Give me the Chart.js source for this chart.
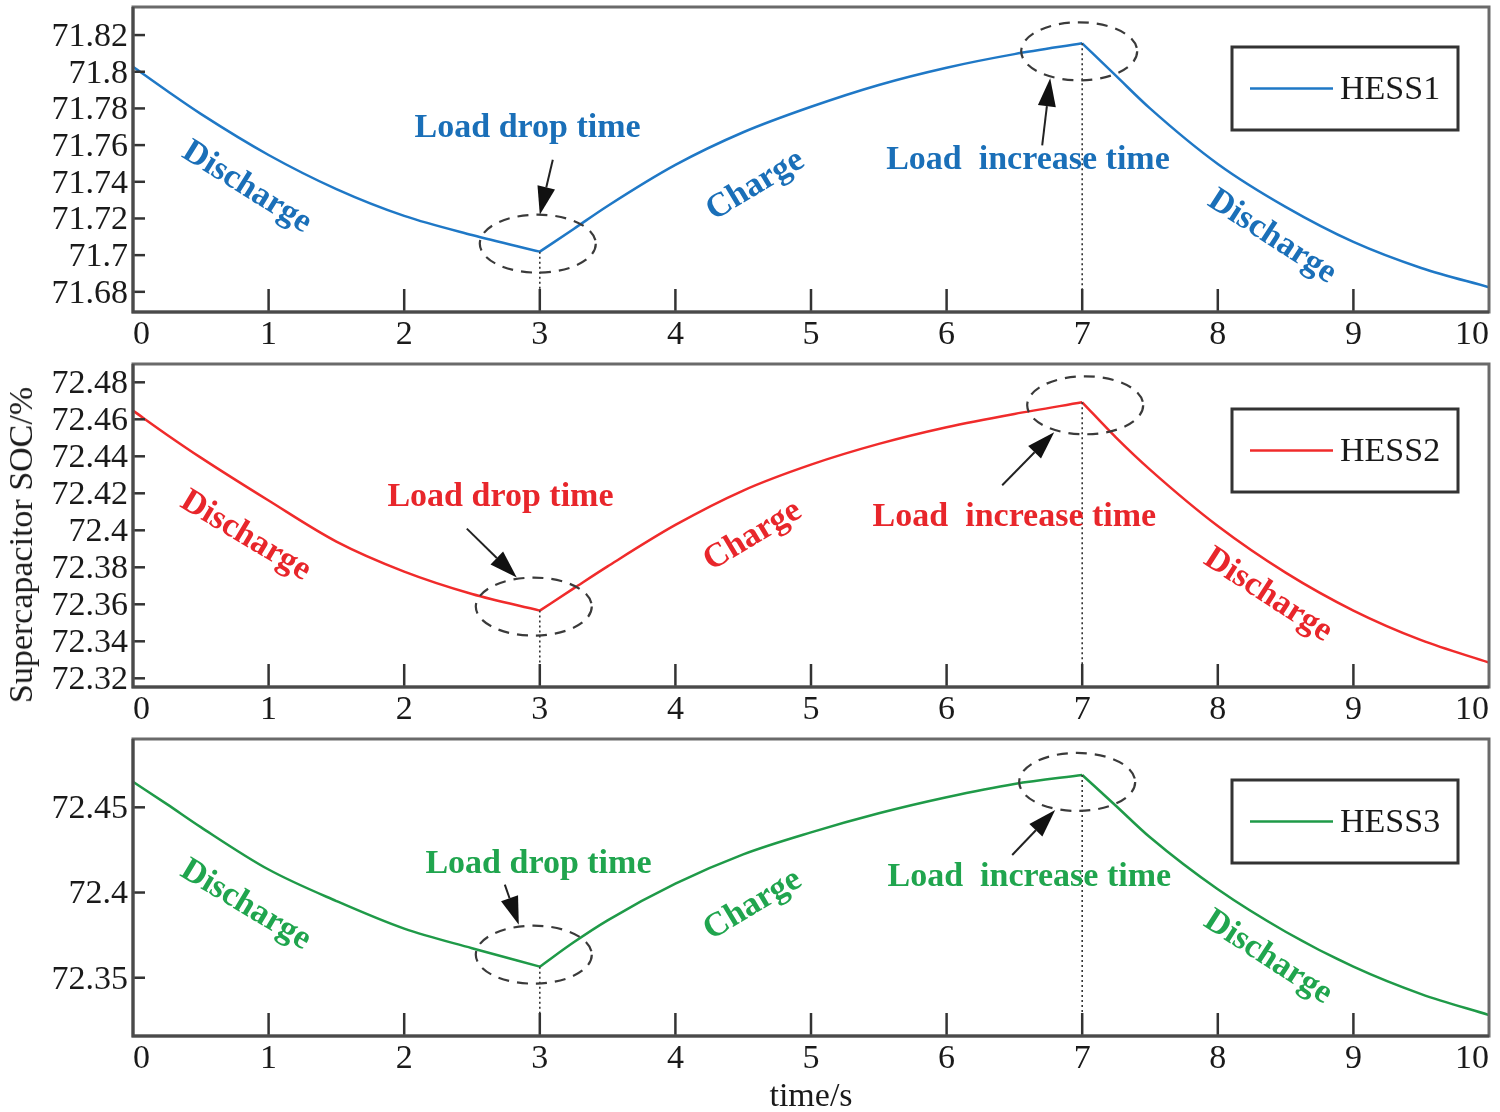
<!DOCTYPE html>
<html>
<head>
<meta charset="utf-8">
<script src="https://cdn.jsdelivr.net/npm/chart.js@4.4.1/dist/chart.umd.min.js"></script>
<style>
  html, body { margin: 0; padding: 0; background: #fff; }
  #wrap { position: relative; width: 1500px; height: 1112px; overflow: hidden; }
  canvas { position: absolute; left: 0; }
  #ylab {
    position: absolute; left: 21px; top: 545px;
    transform: translate(-50%, -50%) rotate(-90deg);
    font: 34px "Liberation Serif"; color: #1a1a1a; white-space: nowrap;
  }
</style>
</head>
<body>
<div id="wrap">
  <canvas id="c1" style="top:0px"></canvas>
  <canvas id="c2" style="top:355px"></canvas>
  <canvas id="c3" style="top:725px"></canvas>
  <div id="ylab">Supercapacitor SOC/%</div>
</div>
<script>
// ── values --------------------------------------------------------------------
const timeS = [0, 0.25, 0.5, 1, 1.5, 2, 2.5, 3, 3.25, 3.5, 4, 4.5, 5, 5.5, 6, 6.5, 7, 7.25, 7.5, 8, 8.5, 9, 9.5, 10];

const hess1 = [71.8027, 71.7896, 71.777, 71.7546, 71.736, 71.7214, 71.711, 71.7019,
               71.7143, 71.7268, 71.7492, 71.767, 71.7809, 71.7928, 71.8022, 71.8096, 71.8155,
               71.7977, 71.78, 71.7497, 71.7263, 71.7072, 71.693, 71.6825];

const hess2 = [72.4647, 72.4517, 72.4393, 72.4161, 72.3939, 72.3777, 72.3656, 72.3566,
               72.3686, 72.3805, 72.4029, 72.4215, 72.4355, 72.4467, 72.4557, 72.4629, 72.4692,
               72.4501, 72.4328, 72.4023, 72.3771, 72.3566, 72.3406, 72.3285];

const hess3 = [72.465, 72.4519, 72.4384, 72.4135, 72.395, 72.3788, 72.3673, 72.3565,
               72.3708, 72.3837, 72.4052, 72.4224, 72.4353, 72.4465, 72.4559, 72.4637, 72.469,
               72.4508, 72.4324, 72.4019, 72.377, 72.3565, 72.3404, 72.3281];

const phaseBreaks = [3, 7];          // load drop / load increase instants
const xTicks  = [0, 1, 2, 3, 4, 5, 6, 7, 8, 9, 10];
const yTicks1 = [71.68, 71.70, 71.72, 71.74, 71.76, 71.78, 71.80, 71.82];
const yTicks2 = [72.32, 72.34, 72.36, 72.38, 72.40, 72.42, 72.44, 72.46, 72.48];
const yTicks3 = [72.35, 72.40, 72.45];

const SERIF = '"Liberation Serif", "Times New Roman", serif';
const INK = '#1a1a1a';

// split one series into discharge / charge / discharge pieces so the kinks stay sharp
function phaseData(values) {
  const cuts = [0, ...phaseBreaks.map(b => timeS.indexOf(b)), timeS.length - 1];
  const parts = [];
  for (let k = 0; k < cuts.length - 1; k++) {
    const pts = [];
    for (let i = cuts[k]; i <= cuts[k + 1]; i++) pts.push({ x: timeS[i], y: values[i] });
    parts.push(pts);
  }
  return parts;
}

function arrow(ctx, x1, y1, x2, y2) {
  const ang = Math.atan2(y2 - y1, x2 - x1);
  const len = 28, half = 9;
  const bx = x2 - len * Math.cos(ang), by = y2 - len * Math.sin(ang);
  ctx.strokeStyle = '#222';
  ctx.fillStyle = '#111';
  ctx.lineWidth = 2;
  ctx.beginPath(); ctx.moveTo(x1, y1); ctx.lineTo(bx, by); ctx.stroke();
  ctx.beginPath();
  ctx.moveTo(x2, y2);
  ctx.lineTo(bx + half * Math.sin(ang), by - half * Math.cos(ang));
  ctx.lineTo(bx - half * Math.sin(ang), by + half * Math.cos(ang));
  ctx.closePath(); ctx.fill();
}

// frame, inward ticks, notes and boxed legend
function decorations(p) {
  return {
    id: 'decor',
    afterDatasetsDraw(chart) {
      const { ctx, chartArea: a, scales: { x, y } } = chart;
      ctx.save();

      // dotted markers, dashed rings, arrows
      p.notes.rings.forEach(r => {
        const i = timeS.indexOf(r.at);
        const px = x.getPixelForValue(r.at), py = y.getPixelForValue(p.values[i]);
        ctx.strokeStyle = '#333';
        ctx.setLineDash([2, 3]); ctx.lineWidth = 1.6;
        ctx.beginPath(); ctx.moveTo(px, py); ctx.lineTo(px, a.bottom); ctx.stroke();
        const cx = px + r.dx, cy = py + r.dy;
        ctx.setLineDash([11, 8]); ctx.lineWidth = 2.2; ctx.strokeStyle = '#3a3a3a';
        ctx.beginPath(); ctx.ellipse(cx, cy, 58, 29, 0, 0, Math.PI * 2); ctx.stroke();
        ctx.setLineDash([]);
        arrow(ctx, cx + r.arrow[0], cy + r.arrow[1], cx + r.arrow[2], cy + r.arrow[3]);
      });

      // coloured labels
      ctx.fillStyle = p.textColor;
      ctx.font = 'bold 34px ' + SERIF;
      ctx.textAlign = 'center'; ctx.textBaseline = 'middle';
      p.notes.labels.forEach(l => {
        ctx.save();
        ctx.translate(x.getPixelForValue(l.t), y.getPixelForValue(l.v));
        ctx.rotate(l.rot * Math.PI / 180);
        ctx.fillText(l.text, 0, 0);
        ctx.restore();
      });

      // tick marks pointing into the plot
      ctx.strokeStyle = '#333'; ctx.lineWidth = 2.5;
      x.ticks.forEach(t => {
        if (t.value <= x.min || t.value >= x.max) return;
        const px = x.getPixelForValue(t.value);
        ctx.beginPath(); ctx.moveTo(px, a.bottom); ctx.lineTo(px, a.bottom - 23); ctx.stroke();
      });
      y.ticks.forEach(t => {
        const py = y.getPixelForValue(t.value);
        ctx.beginPath(); ctx.moveTo(a.left, py); ctx.lineTo(a.left + 12, py); ctx.stroke();
      });

      // frame
      ctx.strokeStyle = '#6a6a6a'; ctx.lineWidth = 3;
      ctx.strokeRect(a.left, a.top, a.right - a.left, a.bottom - a.top);
      ctx.strokeStyle = '#4a4a4a';
      ctx.beginPath(); ctx.moveTo(a.left, a.top); ctx.lineTo(a.left, a.bottom); ctx.lineTo(a.right, a.bottom); ctx.stroke();

      // boxed legend
      const bx = a.right - 257, by = a.top + p.legendTop, bw = 226, bh = 83;
      ctx.fillStyle = '#fff'; ctx.fillRect(bx, by, bw, bh);
      ctx.strokeStyle = '#333'; ctx.lineWidth = 3; ctx.strokeRect(bx, by, bw, bh);
      ctx.strokeStyle = p.lineColor; ctx.lineWidth = 2.5;
      ctx.beginPath(); ctx.moveTo(bx + 18, by + bh / 2); ctx.lineTo(bx + 101, by + bh / 2); ctx.stroke();
      ctx.fillStyle = INK; ctx.font = '34px ' + SERIF;
      ctx.textAlign = 'left'; ctx.textBaseline = 'middle';
      ctx.fillText(p.label, bx + 108, by + bh / 2 + 2);

      ctx.restore();
    }
  };
}

function buildPanel(p) {
  const canvas = document.getElementById(p.id);
  canvas.width = 1500; canvas.height = p.height;
  canvas.style.width = '1500px'; canvas.style.height = p.height + 'px';

  const datasets = phaseData(p.values).map(pts => ({
    data: pts,
    borderColor: p.lineColor,
    borderWidth: 2.5,
    pointRadius: 0,
    cubicInterpolationMode: 'monotone',
    fill: false
  }));

  new Chart(canvas.getContext('2d'), {
    type: 'line',
    data: { datasets },
    options: {
      responsive: false,
      animation: false,
      devicePixelRatio: 1,
      layout: { padding: { top: p.top, left: 0, right: 11, bottom: 0 } },
      plugins: { legend: { display: false }, tooltip: { enabled: false } },
      scales: {
        x: {
          type: 'linear', min: 0, max: 10,
          afterBuildTicks: s => { s.ticks = xTicks.map(v => ({ value: v })); },
          afterFit: s => { s.height = p.xAxisH; s.paddingLeft = 0; s.paddingRight = 0; },
          grid: { display: false, drawTicks: false },
          border: { display: false },
          ticks: { align: 'inner', padding: 3, maxRotation: 0, autoSkip: false,
                   color: INK, font: { family: SERIF, size: 34 } },
          title: { display: !!p.xTitle, text: p.xTitle || '', color: INK,
                   font: { family: SERIF, size: 34 }, padding: { top: 0, bottom: 0 } }
        },
        y: {
          type: 'linear', min: p.yMin, max: p.yMax,
          afterBuildTicks: s => { s.ticks = p.yTicks.map(v => ({ value: v })); },
          afterFit: s => { s.width = 133; s.paddingTop = 0; s.paddingBottom = 0; },
          grid: { display: false, drawTicks: false },
          border: { display: false },
          ticks: { padding: 5, autoSkip: false, labelOffset: 2, color: INK,
                   font: { family: SERIF, size: 34 },
                   callback: v => String(+v.toFixed(2)) }
        }
      }
    },
    plugins: [decorations(p)]
  });
}

window.addEventListener('DOMContentLoaded', () => {
  buildPanel({
    id: 'c1', height: 355, top: 7, xAxisH: 43,
    values: hess1, label: 'HESS1', lineColor: '#1f78c6', textColor: '#1a6fb8',
    yMin: 71.669, yMax: 71.8353, yTicks: yTicks1, legendTop: 40,
    notes: {
      labels: [
        { text: 'Discharge', t: 0.84, v: 71.737, rot: 32 },
        { text: 'Load drop time', t: 2.91, v: 71.769, rot: 0 },
        { text: 'Charge', t: 4.59, v: 71.738, rot: -31 },
        { text: 'Load  increase time', t: 6.6, v: 71.752, rot: 0 },
        { text: 'Discharge', t: 8.4, v: 71.71, rot: 33 }
      ],
      rings: [
        { at: 3, dx: -2, dy: -8, arrow: [15, -84, 2, -29] },
        { at: 7, dx: -3, dy: 8, arrow: [-37, 94, -29, 27] }
      ]
    }
  });

  buildPanel({
    id: 'c2', height: 370, top: 9, xAxisH: 38,
    values: hess2, label: 'HESS2', lineColor: '#f02b2b', textColor: '#e8262b',
    yMin: 72.3153, yMax: 72.4899, yTicks: yTicks2, legendTop: 45,
    notes: {
      labels: [
        { text: 'Discharge', t: 0.83, v: 72.397, rot: 31 },
        { text: 'Load drop time', t: 2.71, v: 72.418, rot: 0 },
        { text: 'Charge', t: 4.57, v: 72.397, rot: -31 },
        { text: 'Load  increase time', t: 6.5, v: 72.407, rot: 0 },
        { text: 'Discharge', t: 8.37, v: 72.365, rot: 33 }
      ],
      rings: [
        { at: 3, dx: -6, dy: -4, arrow: [-67, -78, -17, -29] },
        { at: 7, dx: 3, dy: 3, arrow: [-83, 80, -31, 27] }
      ]
    }
  });

  buildPanel({
    id: 'c3', height: 392, top: 14, xAxisH: 81, xTitle: 'time/s',
    values: hess3, label: 'HESS3', lineColor: '#1f9a48', textColor: '#20a54e',
    yMin: 72.3158, yMax: 72.4901, yTicks: yTicks3, legendTop: 41,
    notes: {
      labels: [
        { text: 'Discharge', t: 0.83, v: 72.3927, rot: 31 },
        { text: 'Load drop time', t: 2.99, v: 72.4167, rot: 0 },
        { text: 'Charge', t: 4.57, v: 72.3927, rot: -31 },
        { text: 'Load  increase time', t: 6.61, v: 72.409, rot: 0 },
        { text: 'Discharge', t: 8.37, v: 72.362, rot: 33 }
      ],
      rings: [
        { at: 3, dx: -6, dy: -12, arrow: [-29, -70, -15, -30] },
        { at: 7, dx: -5, dy: 7, arrow: [-65, 73, -22, 28] }
      ]
    }
  });
});
</script>
</body>
</html>
